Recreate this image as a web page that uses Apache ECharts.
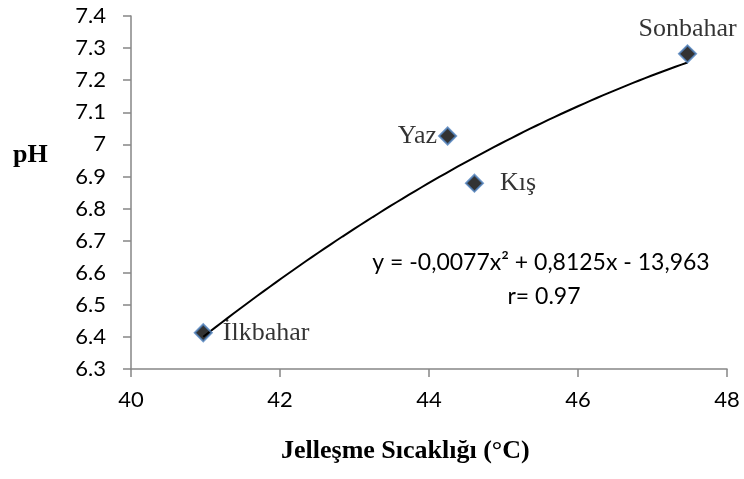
<!DOCTYPE html>
<html>
<head>
<meta charset="utf-8">
<script src="https://cdn.jsdelivr.net/npm/echarts@6/dist/echarts.min.js"></script>
<style>
  html, body { margin: 0; padding: 0; background: #fff; }
  #chart { width: 744px; height: 479px; }
</style>
</head>
<body>
<div id="chart"></div>
<script>
// Seasonal samples: gelling temperature (°C) against pH
const seasons = ['İlkbahar', 'Yaz', 'Kış', 'Sonbahar'];
const gelTemp = [40.97, 44.25, 44.61, 47.47];
const phValues = [6.413, 7.026, 6.879, 7.282];

// Second-order trendline coefficients: a*x^2 + b*x + c
const trendCoef = [-0.0077, 0.8125, -13.963];
const trendText = ['y = -0,0077x² + 0,8125x - 13,963', 'r= 0.97'];

// Axis ranges
const xRange = { min: 40, max: 48, interval: 2 };
const yRange = { min: 6.3, max: 7.4, interval: 0.1 };

const xTitle = 'Jelleşme Sıcaklığı (°C)';
const yTitle = 'pH';

// Where each season's name sits around its marker
const labelPlacement = {
  'İlkbahar': { position: 'right', distance: 10 },
  'Yaz': { position: 'left', distance: 1 },
  'Kış': { position: 'right', distance: 16 },
  'Sonbahar': { position: 'top', distance: 2 }
};

const points = seasons.map((name, i) => ({
  name: name,
  value: [gelTemp[i], phValues[i]],
  label: labelPlacement[name]
}));

// Sample the fitted polynomial across the measured temperature span
const xLo = Math.min(...gelTemp), xHi = Math.max(...gelTemp);
const trend = [];
const steps = 80;
for (let k = 0; k <= steps; k++) {
  const x = xLo + (xHi - xLo) * k / steps;
  trend.push([x, trendCoef[0] * x * x + trendCoef[1] * x + trendCoef[2]]);
}

const axisGrey = '#868686';
const chart = echarts.init(document.getElementById('chart'), null, { renderer: 'canvas' });
chart.setOption({
  animation: false,
  backgroundColor: '#ffffff',
  grid: { left: 131, right: 17, top: 16, bottom: 110, containLabel: false },
  xAxis: {
    type: 'value',
    min: xRange.min, max: xRange.max, interval: xRange.interval,
    axisLine: { show: true, onZero: false, lineStyle: { color: axisGrey, width: 1.5 } },
    axisTick: { show: true, length: 8, lineStyle: { color: axisGrey, width: 1.5 } },
    splitLine: { show: false },
    axisLabel: { color: '#000', fontFamily: 'Lato', fontSize: 22, margin: 20 }
  },
  yAxis: {
    type: 'value',
    min: yRange.min, max: yRange.max, interval: yRange.interval,
    axisLine: { show: true, onZero: false, lineStyle: { color: axisGrey, width: 1.5 } },
    axisTick: { show: true, length: 8, lineStyle: { color: axisGrey, width: 1.5 } },
    splitLine: { show: false },
    axisLabel: {
      color: '#000', fontFamily: 'Lato', fontSize: 22, margin: 25,
      formatter: v => String(Math.round(v * 10) / 10)
    }
  },
  series: [
    {
      type: 'line',
      data: trend,
      showSymbol: false,
      symbol: 'none',
      smooth: false,
      lineStyle: { color: '#000', width: 2 },
      z: 2
    },
    {
      type: 'scatter',
      data: points,
      symbol: 'diamond',
      symbolSize: 17,
      itemStyle: { color: '#000', borderColor: '#4F81BD', borderWidth: 2 },
      label: {
        show: true,
        formatter: p => p.name,
        color: '#000',
        fontFamily: 'Liberation Serif',
        fontSize: 26
      },
      z: 3
    }
  ],
  graphic: [
    {
      type: 'text', left: 13, top: 142,
      style: { text: yTitle, fill: '#000', font: 'bold 26px "Liberation Serif"' }
    },
    {
      type: 'text', left: 281, top: 438,
      style: { text: xTitle, fill: '#000', font: 'bold 26px "Liberation Serif"' }
    },
    {
      type: 'text', x: 541, y: 263,
      style: { text: trendText[0], fill: '#000', font: '23px Lato', align: 'center', verticalAlign: 'middle' }
    },
    {
      type: 'text', x: 544, y: 297,
      style: { text: trendText[1], fill: '#000', font: '23px Lato', align: 'center', verticalAlign: 'middle' }
    }
  ]
});
</script>
</body>
</html>
